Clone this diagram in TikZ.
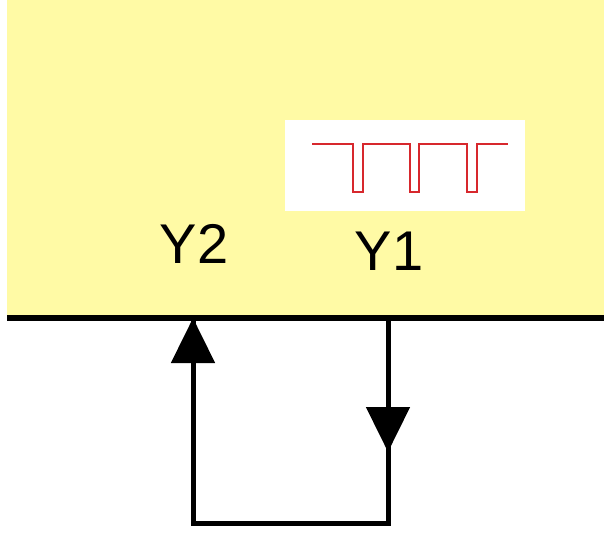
\documentclass[tikz,border=0pt]{standalone}
\usepackage{fontspec}
\setmainfont{Liberation Sans}
\usetikzlibrary{arrows.meta}
\definecolor{panel}{RGB}{255,250,165}
\definecolor{wave}{RGB}{215,40,45}
\tikzset{
  lbl/.style={font=\fontsize{56}{56}\selectfont, inner sep=0pt, anchor=base},
  wire/.style={line width=5pt, black},
  tip/.style={-{Triangle[width=43pt,length=45pt]}}
}
\begin{document}
\begin{tikzpicture}[x=1pt,y=-1pt]
\useasboundingbox (0,0) rectangle (604,534);
\fill[white] (0,0) rectangle (604,534);
\fill[panel] (7,0) rectangle (604,318);
\fill[white] (285,120) rectangle (525,211);
\draw[wave, line width=2.2pt, line join=miter]
  (312,144) -- (353,144) -- (353,192) -- (363,192) -- (363,144)
  -- (410,144) -- (410,192) -- (419,192) -- (419,144)
  -- (467,144) -- (467,192) -- (477,192) -- (477,144) -- (508,144);
\node[lbl] (y2) at (194,264) {Y2};
\node[lbl] (y1) at (389,270) {Y1};
\coordinate (barL) at (7,318);
\coordinate (barR) at (604,318);
\draw[line width=5.5pt] (barL) -- (barR);
\coordinate (t2) at (193,318);
\coordinate (t1) at (388,318);
\coordinate (b2) at (193,523);
\coordinate (b1) at (388,523);
\coordinate (m1) at (388,452);
\draw[wire, line cap=rect] (t1) -- (b1) -- (b2) -- (t2);
\draw[wire, tip] (388,380) -- (m1);
\draw[wire, tip] (193,380) -- (t2);
\end{tikzpicture}
\end{document}
